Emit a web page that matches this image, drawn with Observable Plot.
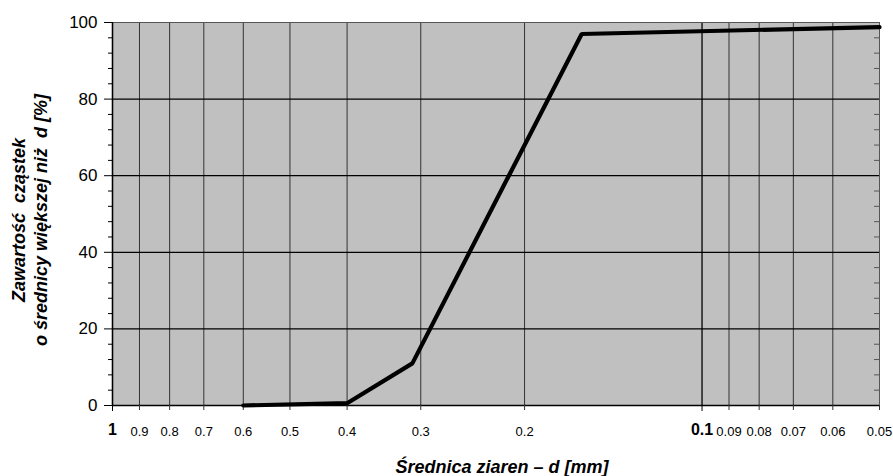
<!DOCTYPE html>
<html>
<head>
<meta charset="utf-8">
<script src="https://cdn.jsdelivr.net/npm/d3@7"></script>
<script src="https://cdn.jsdelivr.net/npm/@observablehq/plot@0.6"></script>
<style>
  html, body { margin: 0; padding: 0; background: #fff; }
  #chart svg { display: block; }
</style>
</head>
<body>
<div id="chart"></div>
<script>
// Grain-size distribution: share of particles larger than d
const diameter = [0.6, 0.4, 0.31, 0.16, 0.05];      // mm
const share = [0, 0.6, 11, 97, 98.8];                // %

const xTicks = [1, 0.9, 0.8, 0.7, 0.6, 0.5, 0.4, 0.3, 0.2, 0.1, 0.09, 0.08, 0.07, 0.06, 0.05];
const xDecades = [1, 0.1];
const yTicks = [0, 20, 40, 60, 80, 100];
const yMinor = d3.range(0, 101, 4).filter(v => v % 20 !== 0);

const xTitle = "Średnica ziaren – d [mm]";
const yTitle = "Zawartość\u00a0\u00a0cząstek\no średnicy większej niż\u00a0\u00a0d [%]";

const data = diameter.map((d, i) => ({d, p: share[i]}));

const W = 893, H = 476;
const mL = 112, mR = 14, mT = 22, mB = 71;
const frameW = W - mL - mR;
const font = "Liberation Sans, Arial, Helvetica, sans-serif";

const chart = Plot.plot({
  width: W,
  height: H,
  marginLeft: mL,
  marginRight: mR,
  marginTop: mT,
  marginBottom: mB,
  style: {fontFamily: font, background: "#fff", color: "#000"},
  x: {type: "log", domain: [1, 0.05], axis: null, label: null},
  y: {domain: [0, 100], axis: null, label: null},
  marks: [
    Plot.frame({fill: "#c0c0c0", stroke: null}),
    // vertical grid
    Plot.ruleX(xTicks.filter(v => !xDecades.includes(v)), {stroke: "#333", strokeWidth: 1}),
    Plot.ruleX(xDecades, {stroke: "#000", strokeWidth: 1.3}),
    // horizontal grid
    Plot.ruleY(yTicks.filter(v => v > 0 && v < 100), {stroke: "#000", strokeWidth: 1.2}),
    Plot.frame({stroke: "#555", strokeWidth: 1}),
    // right-side minor ticks, inside the frame
    Plot.tickY(yMinor, {y: d => d, stroke: "#555", insetLeft: frameW - 5}),
    // axis lines
    Plot.ruleY([0], {stroke: "#000", strokeWidth: 1.3}),
    Plot.ruleX([1], {stroke: "#000", strokeWidth: 1.3}),
    // x axis
    Plot.axisX(xTicks.filter(v => !xDecades.includes(v)), {
      label: null, tickSize: 5, tickPadding: 16, fontSize: 13, stroke: "#333",
      text: d => String(d)
    }),
    Plot.axisX(xDecades, {
      label: null, tickSize: 6, tickPadding: 12, fontSize: 16, fontWeight: "bold", stroke: "#000",
      text: d => String(d)
    }),
    // y axis
    Plot.axisY(yTicks, {label: null, tickSize: 8, tickPadding: 7, fontSize: 17, stroke: "#000", text: d => String(d)}),
    Plot.axisY(yMinor, {label: null, tickSize: 4, stroke: "#000", text: () => ""}),
    // distribution curve
    Plot.line(data, {x: "d", y: "p", stroke: "#000", strokeWidth: 4.2, strokeLinejoin: "miter", strokeLinecap: "round"}),
    // axis titles
    Plot.text([xTitle], {
      frameAnchor: "bottom", text: d => d, dx: 6, dy: 62, lineAnchor: "middle", textAnchor: "middle",
      fontSize: 18, fontWeight: "bold", fontStyle: "italic", fill: "#000"
    }),
    Plot.text([yTitle], {
      frameAnchor: "left", text: d => d, rotate: -90, dx: -84, dy: 6, lineAnchor: "middle", textAnchor: "middle",
      lineHeight: 1.22, fontSize: 18, fontWeight: "bold", fontStyle: "italic", fill: "#000"
    })
  ]
});

document.getElementById("chart").appendChild(chart);
</script>
</body>
</html>
